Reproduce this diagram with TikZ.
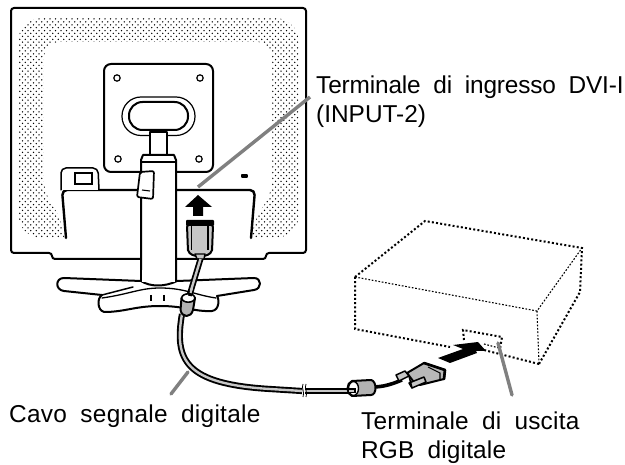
\documentclass[tikz,border=0pt]{standalone}
\usepackage{fontspec}
\setmainfont{Liberation Sans}[WordSpace=1.9]
\tikzset{
 ol/.style={draw=black,line width=2pt,line join=round,line cap=round},
 olf/.style={ol,fill=white},
 thin ol/.style={draw=black,line width=1.1pt},
 leader/.style={draw=black!50,line width=3.4pt,line cap=round},
 lab/.style={anchor=base west,inner sep=0pt,font=\fontsize{24.4}{28}\selectfont\addfontfeature{LetterSpace=#1}},
 thickdot/.style={draw=black,line width=2pt,dash pattern=on 2pt off 2.2pt},
 thindot/.style={draw=black,line width=1.1pt,dash pattern=on 1.7pt off 1.7pt},
 cablegray/.style={draw=black!22,line width=2.4pt}
}
\begin{document}
\begin{tikzpicture}[x=1pt,y=-1pt]
\useasboundingbox (0,0) rectangle (625,465);
\fill[white] (0,0) rectangle (625,465);
% monitor
\draw[olf,rounded corners=3pt] (11,8) -- (306,8) -- (306,253) -- (266,253) -- (266,259) -- (52,259) -- (52,253) -- (11,253) -- cycle;
% dots
\begin{scope}
\clip[rounded corners=24pt] (18,18) rectangle (299,238);
\foreach \r in {0,...,38}{
  \foreach \c in {0,...,51}{
   \fill[black] ({17+\c*5.5},{19+\r*5.8}) circle[radius=0.75pt]
     ({19.75+\c*5.5},{21.9+\r*5.8}) circle[radius=0.75pt];
  }
}
\end{scope}
\fill[white,rounded corners=16pt] (44,42) -- (272,42) -- (272,196) -- (254,216) -- (252,245) -- (64,245) -- (62,216) -- (44,196) -- cycle;
% back panel
\fill[white] (64,195) rectangle (252,246);
\draw[ol,line width=2.4pt,rounded corners=5pt] (66,238) -- (62,190) -- (255,190) -- (251,238);
% tab
\draw[olf,line width=1.5pt,rounded corners=5pt] (61,190) -- (61,168) -- (98,168) -- (99,190);
\draw[thin ol,line width=1.2pt] (75,173) rectangle (92,184);
\draw[ol,line width=1.3pt] (242,175) rectangle (247,177);
% mount plate
\draw[olf,rounded corners=7pt] (104,64) rectangle (213,172);
\foreach \n/\x/\y in {h1/117/78,h2/200/78,h3/118/159,h4/199/159}
  \draw[thin ol,line width=1.2pt] (\x,\y) circle[radius=3.2pt];
\draw[thin ol,line width=1.2pt,rounded corners=19pt] (122,97) rectangle (195,135.5);
\draw[ol,rounded corners=13.5pt] (129,102) rectangle (188,130);
\draw[olf] (150,132) rectangle (167,156);
% stand column
\draw[ol,fill=white] (141,283) -- (141,160) -- (143,155) -- (174,155) -- (176,160) -- (176,283);
\draw[thin ol] (142,162) -- (175,162);
% base
\draw[olf] (141,281) -- (64,278) .. controls (55,278) and (55,290) .. (64,291) -- (102,295)
  .. controls (97,298) and (97,310) .. (104,312) .. controls (125,312) and (135,306) .. (160,306)
  .. controls (185,306) and (195,312) .. (212,311) .. controls (220,310) and (219,298) .. (217,296)
  -- (254,290) .. controls (262,289) and (262,278) .. (254,278) -- (177,281)
  .. controls (165,287) and (150,287) .. (141,281) -- cycle;
\draw[ol,line width=1.5pt] (102,295) -- (133,287);
\draw[ol,line width=1.3pt] (102,298) .. controls (130,294) and (140,288) .. (160,288) .. controls (185,288) and (195,295) .. (216,298);
\draw[thin ol] (151,295) -- (151,301) (164,295) -- (164,301);
\fill[white] (142.2,270) rectangle (174.8,282);
% strap on column
\draw[olf,line width=1.7pt,rounded corners=2pt] (140,172) -- (154,171) -- (153,199) -- (137,197) -- cycle;
\draw[thin ol] (142,190) -- (150,191);
% leader ends
\coordinate (t1) at (198,187);
\coordinate (t2) at (171,394);
\coordinate (t3) at (512,395);
% arrow up
\fill[black] (198,195) -- (212,207) -- (203,207) -- (203,216) -- (193,216) -- (193,207) -- (185,207) -- cycle;
% connector 1
\fill[white] (181,218) rectangle (218,256);
\draw[ol,fill=black!22,rounded corners=2pt] (187,225) -- (213,225) -- (212,252) -- (206,256) -- (194,256) -- (188,252) -- cycle;
\fill[black,rounded corners=1pt] (186,220) rectangle (214,226);
\draw[thin ol] (191.5,226) -- (191.5,250) (208,226) -- (208,250);
\draw[ol,line width=1.4pt,fill=black!22] (195,254) -- (205,254) -- (204,259) -- (197,259) -- cycle;
% cable top part
\draw[line width=6pt,black] (200.5,259) -- (189,297);
\draw[cablegray] (200.5,259) -- (189,297);
% main cable
\draw[line width=6.2pt,black] (182,314) .. controls (174,360) and (185,384) .. (270,389) -- (302,391);
\draw[cablegray] (182,314) .. controls (174,360) and (185,384) .. (270,389) -- (302,391);
\draw[line width=6.2pt,black] (305,391) -- (352,391);
\draw[cablegray] (305,391) -- (352,391);
\draw[thin ol,line width=.8pt] (303,384) .. controls (301,388) and (305,392) .. (303,397);
\draw[thin ol,line width=.8pt] (306,384) .. controls (304,388) and (308,392) .. (306,397);
% ferrite 1
\draw[ol,fill=black!30] (181.5,298) -- (180.5,310) .. controls (182,318) and (191,318) .. (193,310) -- (195,298) -- cycle;
\draw[ol,fill=white,line width=1.6pt] (188.3,298) ellipse[x radius=6.6pt,y radius=4.2pt];
\draw[line width=4pt,black] (190,296) -- (191,291);
\draw[cablegray,line width=2pt] (190.6,293) -- (192,288);
% ferrite 2
\draw[line width=3.6pt,black] (372,387) .. controls (382,387) and (390,385) .. (402,380);
\draw[ol,fill=black!30] (352,381) -- (371,380) .. controls (377,381) and (377,395) .. (371,395) -- (352,396) .. controls (346,394) and (346,383) .. (352,381) -- cycle;
\draw[ol,fill=white,line width=1.4pt] (353.5,388.5) ellipse[x radius=5pt,y radius=7pt];
\draw[line width=5pt,black] (349,391) -- (356,391);
\draw[cablegray,line width=2pt] (349,391) -- (354,391);
% big arrow
\fill[black] (438,358) -- (463,349) -- (453,345) -- (478,342) -- (486,351) -- (476,351) -- (477,353) -- (450,363) -- cycle;
% connector 2
\draw[ol,fill=black!28] (407,373) -- (424,363) -- (445,370) -- (444,379) -- (420,385) -- (413,381) -- cycle;
\draw[ol,line width=2.6pt] (424,363) -- (445,370) -- (444,379);
\draw[thin ol] (428,367) -- (440,373) -- (440,379);
\draw[ol,fill=black!22,line width=1.5pt] (396,375) -- (405,371) -- (409,376) -- (399,381) -- cycle;
\draw[ol,fill=black!22,line width=1.5pt] (409,383) -- (424,377) -- (426,382) -- (412,388) -- cycle;
\draw[ol,line width=1.5pt] (409,376) -- (412,388);
% box
\draw[thickdot] (355,277) -- (425,221) -- (582,248) -- (580,292) -- (539,364);
\draw[thickdot] (539,364) -- (480,349);
\draw[thickdot] (355,277) -- (355,329) -- (450,347);
\draw[thindot] (355,277) -- (537,311) -- (582,248);
\draw[thindot] (537,311) -- (539,364);
\draw[thickdot] (464,340) -- (463,330) -- (502,337) -- (500,349);
\draw[thindot] (484,344) -- (499,348);
% leaders
\coordinate (t1b) at (310,97);
\coordinate (t2b) at (188,372);
\coordinate (t3b) at (498,343);
\draw[leader,line cap=butt] (t1) -- (t1b);
\draw[leader] (t2) -- (t2b);
\draw[leader] (t3) -- (t3b);
% labels
\node[lab=-0.6] (l1) at (316,94) {Terminale di ingresso DVI-I};
\node[lab=0] (l2) at (316,123) {(INPUT-2)};
\node[lab=1.2] (l3) at (9,423) {Cavo segnale digitale};
\node[lab=.9] (l4) at (361,430) {Terminale di uscita};
\node[lab=.7] (l5) at (361,459) {RGB digitale};
\end{tikzpicture}
\end{document}
